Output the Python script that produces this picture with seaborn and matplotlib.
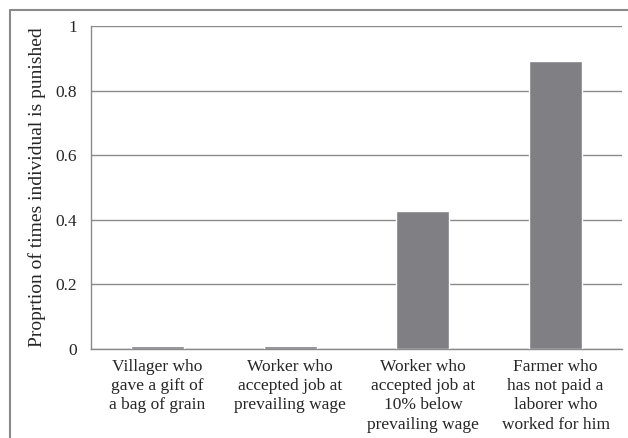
import matplotlib
matplotlib.use("Agg")
import matplotlib.pyplot as plt
import seaborn as sns
import pandas as pd
from matplotlib.lines import Line2D

categories = [
    "Villager who\ngave a gift of\na bag of grain",
    "Worker who\naccepted job at\nprevailing wage",
    "Worker who\naccepted job at\n10% below\nprevailing wage",
    "Farmer who\nhas not paid a\nlaborer who\nworked for him",
]
values = [0.008, 0.008, 0.427, 0.892]
yticks = [0, 0.2, 0.4, 0.6, 0.8, 1]
ytick_labels = ["0", "0.2", "0.4", "0.6", "0.8", "1"]
ylabel = "Proprtion of times individual is punished"

sns.set_style("white")
plt.rcParams["font.family"] = ["Liberation Serif", "DejaVu Serif"]

df = pd.DataFrame({"cat": categories, "val": values})

fig = plt.figure(figsize=(6.28, 4.38), dpi=100)
ax = fig.add_axes([91/628, 1-349/438, (622-91)/628, (349-26)/438])

grid_c = "#8a8a8a"
sns.barplot(data=df, x="cat", y="val", color="#808084", width=0.4,
            saturation=1, ax=ax, zorder=3)

ax.set_ylim(0, 1)
ax.set_xlim(-0.5, 3.5)
ax.set_yticks(yticks)
ax.set_yticklabels(ytick_labels)
ax.yaxis.grid(True, color=grid_c, linewidth=1.0, zorder=0)
ax.set_axisbelow(True)
for s in ["top", "right"]:
    ax.spines[s].set_visible(False)
for s in ["left", "bottom"]:
    ax.spines[s].set_color(grid_c)
    ax.spines[s].set_linewidth(1.0)

ax.set_xticks([-0.5, 0.5, 1.5, 2.5, 3.5], minor=False)
ax.set_xticklabels([])
ax.set_xticks([0, 1, 2, 3], minor=True)
ax.set_xticklabels(categories, minor=True, fontsize=12.5, linespacing=1.28, va="top", ha="center")
ax.tick_params(axis="x", which="major", direction="out", length=5, color=grid_c, width=1)
ax.tick_params(axis="x", which="minor", length=0, pad=7)
ax.tick_params(axis="y", direction="out", length=5, color=grid_c, width=1, labelsize=12.5, pad=5)
ax.set_xlabel("")
ax.set_ylabel(ylabel, fontsize=14, labelpad=7)

# outer frame
fig.add_artist(Line2D([10/628, 10/628], [0, 1-10/438], transform=fig.transFigure, color="#8a8a8a", linewidth=1.5))
fig.add_artist(Line2D([10/628, 1], [1-10/438, 1-10/438], transform=fig.transFigure, color="#8a8a8a", linewidth=1.5))

fig.savefig("out.png", dpi=100)
